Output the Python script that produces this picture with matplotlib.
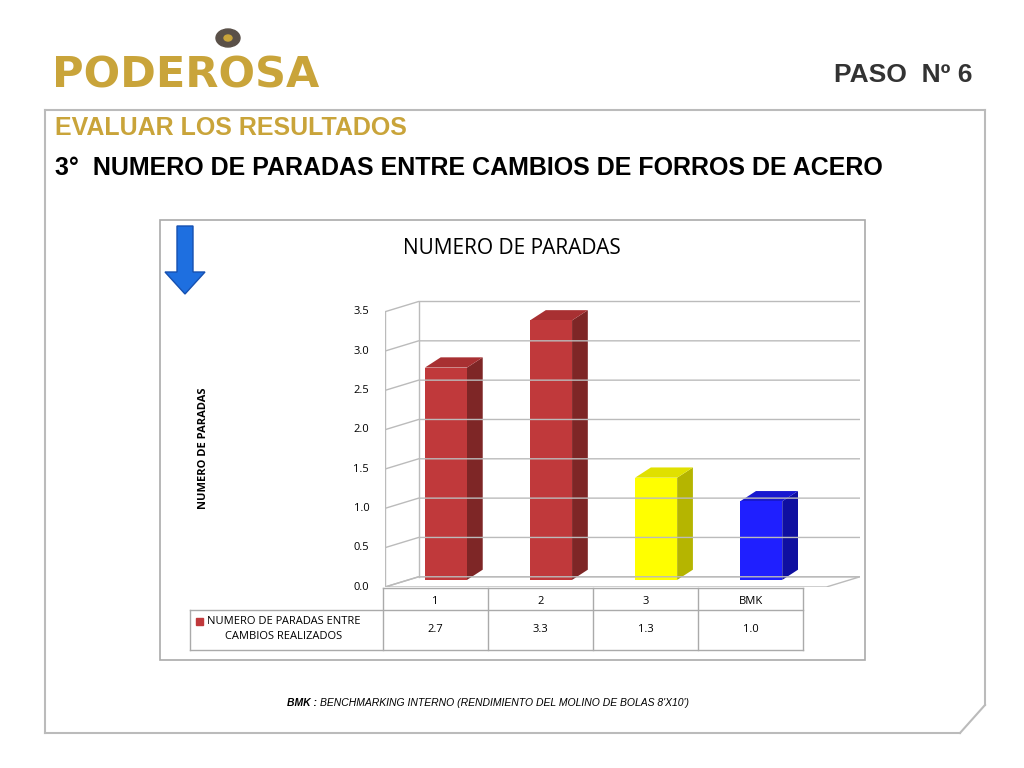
import matplotlib
matplotlib.use("Agg")
import matplotlib.pyplot as plt
from matplotlib.patches import Polygon, Rectangle, FancyArrow, Circle
from matplotlib.lines import Line2D

categories = ["1", "2", "3", "BMK"]
values = [2.7, 3.3, 1.3, 1.0]
value_labels = ["2.7", "3.3", "1.3", "1.0"]
yticks = [0.0, 0.5, 1.0, 1.5, 2.0, 2.5, 3.0, 3.5]
series_name = "NUMERO DE PARADAS ENTRE\nCAMBIOS REALIZADOS"
front_colors = ["#C0393B", "#C0393B", "#FFFF00", "#1F1FFF"]
side_colors = ["#7E2626", "#7E2626", "#B5B500", "#0F0FA0"]
top_colors = ["#A83032", "#A83032", "#E0E000", "#1818D0"]

W, H = 1024, 768
fig = plt.figure(figsize=(W/100, H/100), dpi=100)
def P(x, y):
    return (x/W, 1 - y/H)

# slide frame
fc_ = "#BBBBBB"
fig.add_artist(Line2D([45/W, 985/W], [1-110/H, 1-110/H], color=fc_, lw=1.5))
fig.add_artist(Line2D([45/W, 45/W], [1-110/H, 1-733/H], color=fc_, lw=1.5))
fig.add_artist(Line2D([45/W, 960/W], [1-733/H, 1-733/H], color=fc_, lw=1.5))
fig.add_artist(Line2D([985/W, 985/W], [1-110/H, 1-705/H], color=fc_, lw=1.5))
fig.add_artist(Line2D([960/W, 985/W], [1-733/H, 1-705/H], color=fc_, lw=1.5))

# logo
fig.text(*P(52, 75), "PODEROSA", fontsize=31, fontweight="heavy", color="#C9A43A",
         family="DejaVu Sans", va="center", ha="left")
fig.add_artist(Circle(P(228, 38), 12/W, transform=fig.transFigure, color="#5A5048"))
fig.add_artist(Circle(P(228, 38), 4/W, transform=fig.transFigure, color="#C9A43A"))
fig.text(*P(972, 75), "PASO  Nº 6", fontsize=19, fontweight="bold", color="#333333",
         family="Liberation Sans", ha="right", va="center")
fig.text(*P(55, 128), "EVALUAR LOS RESULTADOS", fontsize=18, fontweight="bold",
         color="#C9A43A", family="Liberation Sans", va="center")
fig.text(*P(55, 168), "3°  NUMERO DE PARADAS ENTRE CAMBIOS DE FORROS DE ACERO",
         fontsize=18, fontweight="bold", color="black", family="Liberation Sans", va="center")

# blue arrow
fig.add_artist(FancyArrow(185/W, 1-226/H, 0, -(68/H), width=16/W, head_width=40/W,
               head_length=22/H, length_includes_head=True, transform=fig.transFigure,
               color="#1E6FE0", ec="#1650B0"))

# chart box
fig.add_artist(Rectangle(P(160, 660), 705/W, 440/H, transform=fig.transFigure,
               fill=False, ec="#AAAAAA", lw=1.2))
fig.text(*P(512, 248), "NUMERO DE PARADAS", fontsize=15, family="Open Sans",
         ha="center", va="center")
fig.text(*P(203, 448), "NUMERO DE PARADAS", fontsize=8, fontweight="bold",
         family="Open Sans", rotation=90, ha="center", va="center")

# 3D axes
left, right, bottom, top = 385, 860, 587, 296
ax = fig.add_axes([left/W, 1-bottom/H, (right-left)/W, (bottom-top)/H])
ax.set_xlim(0, 4.52)
ax.set_ylim(0, 3.7)
ax.axis("off")
fw, dx, dy = 4.2, 0.32, 0.13
gc = "#BBBBBB"
ax.add_patch(Polygon([(0, 0), (fw, 0), (fw+dx, dy), (dx, dy)], closed=True, fc="white", ec=gc, lw=1))
ax.plot([dx, dx], [dy, 3.5+dy], color=gc, lw=1)
ax.plot([0, 0], [0, 3.5], color=gc, lw=1)
for t in yticks:
    ax.plot([0, dx, fw+dx], [t, t+dy, t+dy], color=gc, lw=1)
    ax.text(-0.15, t, f"{t:.1f}", ha="right", va="center", fontsize=8, family="Open Sans")
bw, bd, bdy = 0.4, 0.15, 0.13
for i, v in enumerate(values):
    x0 = i + 0.58 - bw/2
    y0 = 0.09
    ax.add_patch(Polygon([(x0+bw, y0), (x0+bw+bd, y0+bdy), (x0+bw+bd, v+y0+bdy), (x0+bw, v+y0)],
                         closed=True, fc=side_colors[i], ec="none"))
    ax.add_patch(Polygon([(x0, v+y0), (x0+bw, v+y0), (x0+bw+bd, v+y0+bdy), (x0+bd, v+y0+bdy)],
                         closed=True, fc=top_colors[i], ec="none"))
    ax.add_patch(Rectangle((x0, y0), bw, v, fc=front_colors[i], ec="none"))

# data table
tc = "#AAAAAA"
xs = [383, 488, 593, 698, 803]
for x in xs:
    fig.add_artist(Line2D([x/W]*2, [1-588/H, 1-650/H], color=tc, lw=1))
fig.add_artist(Line2D([383/W, 803/W], [1-588/H]*2, color=tc, lw=1))
fig.add_artist(Line2D([190/W, 803/W], [1-610/H]*2, color=tc, lw=1))
fig.add_artist(Line2D([190/W, 803/W], [1-650/H]*2, color=tc, lw=1))
fig.add_artist(Line2D([190/W]*2, [1-610/H, 1-650/H], color=tc, lw=1))
for i, c in enumerate(categories):
    cx = (xs[i]+xs[i+1])/2
    fig.text(*P(cx, 601), c, ha="center", va="center", fontsize=8, family="Open Sans")
    fig.text(*P(cx, 630), value_labels[i], ha="center", va="center", fontsize=8, family="Open Sans")
fig.add_artist(Rectangle(P(196, 625), 7/W, 7/H, transform=fig.transFigure, color="#C0393B"))
fig.text(*P(207, 629), series_name, ha="left", va="center", fontsize=8,
         family="Open Sans", linespacing=1.6, multialignment="center")

fig.text(*P(320, 703), "BMK : ", fontsize=7.5, fontweight="bold", fontstyle="italic",
         family="Liberation Sans", ha="right", va="center")
fig.text(*P(320, 703), "BENCHMARKING INTERNO (RENDIMIENTO DEL MOLINO DE BOLAS 8'X10')",
         fontsize=7.5, fontstyle="italic", family="Liberation Sans", ha="left", va="center")
fig.savefig("out.png", dpi=100)
